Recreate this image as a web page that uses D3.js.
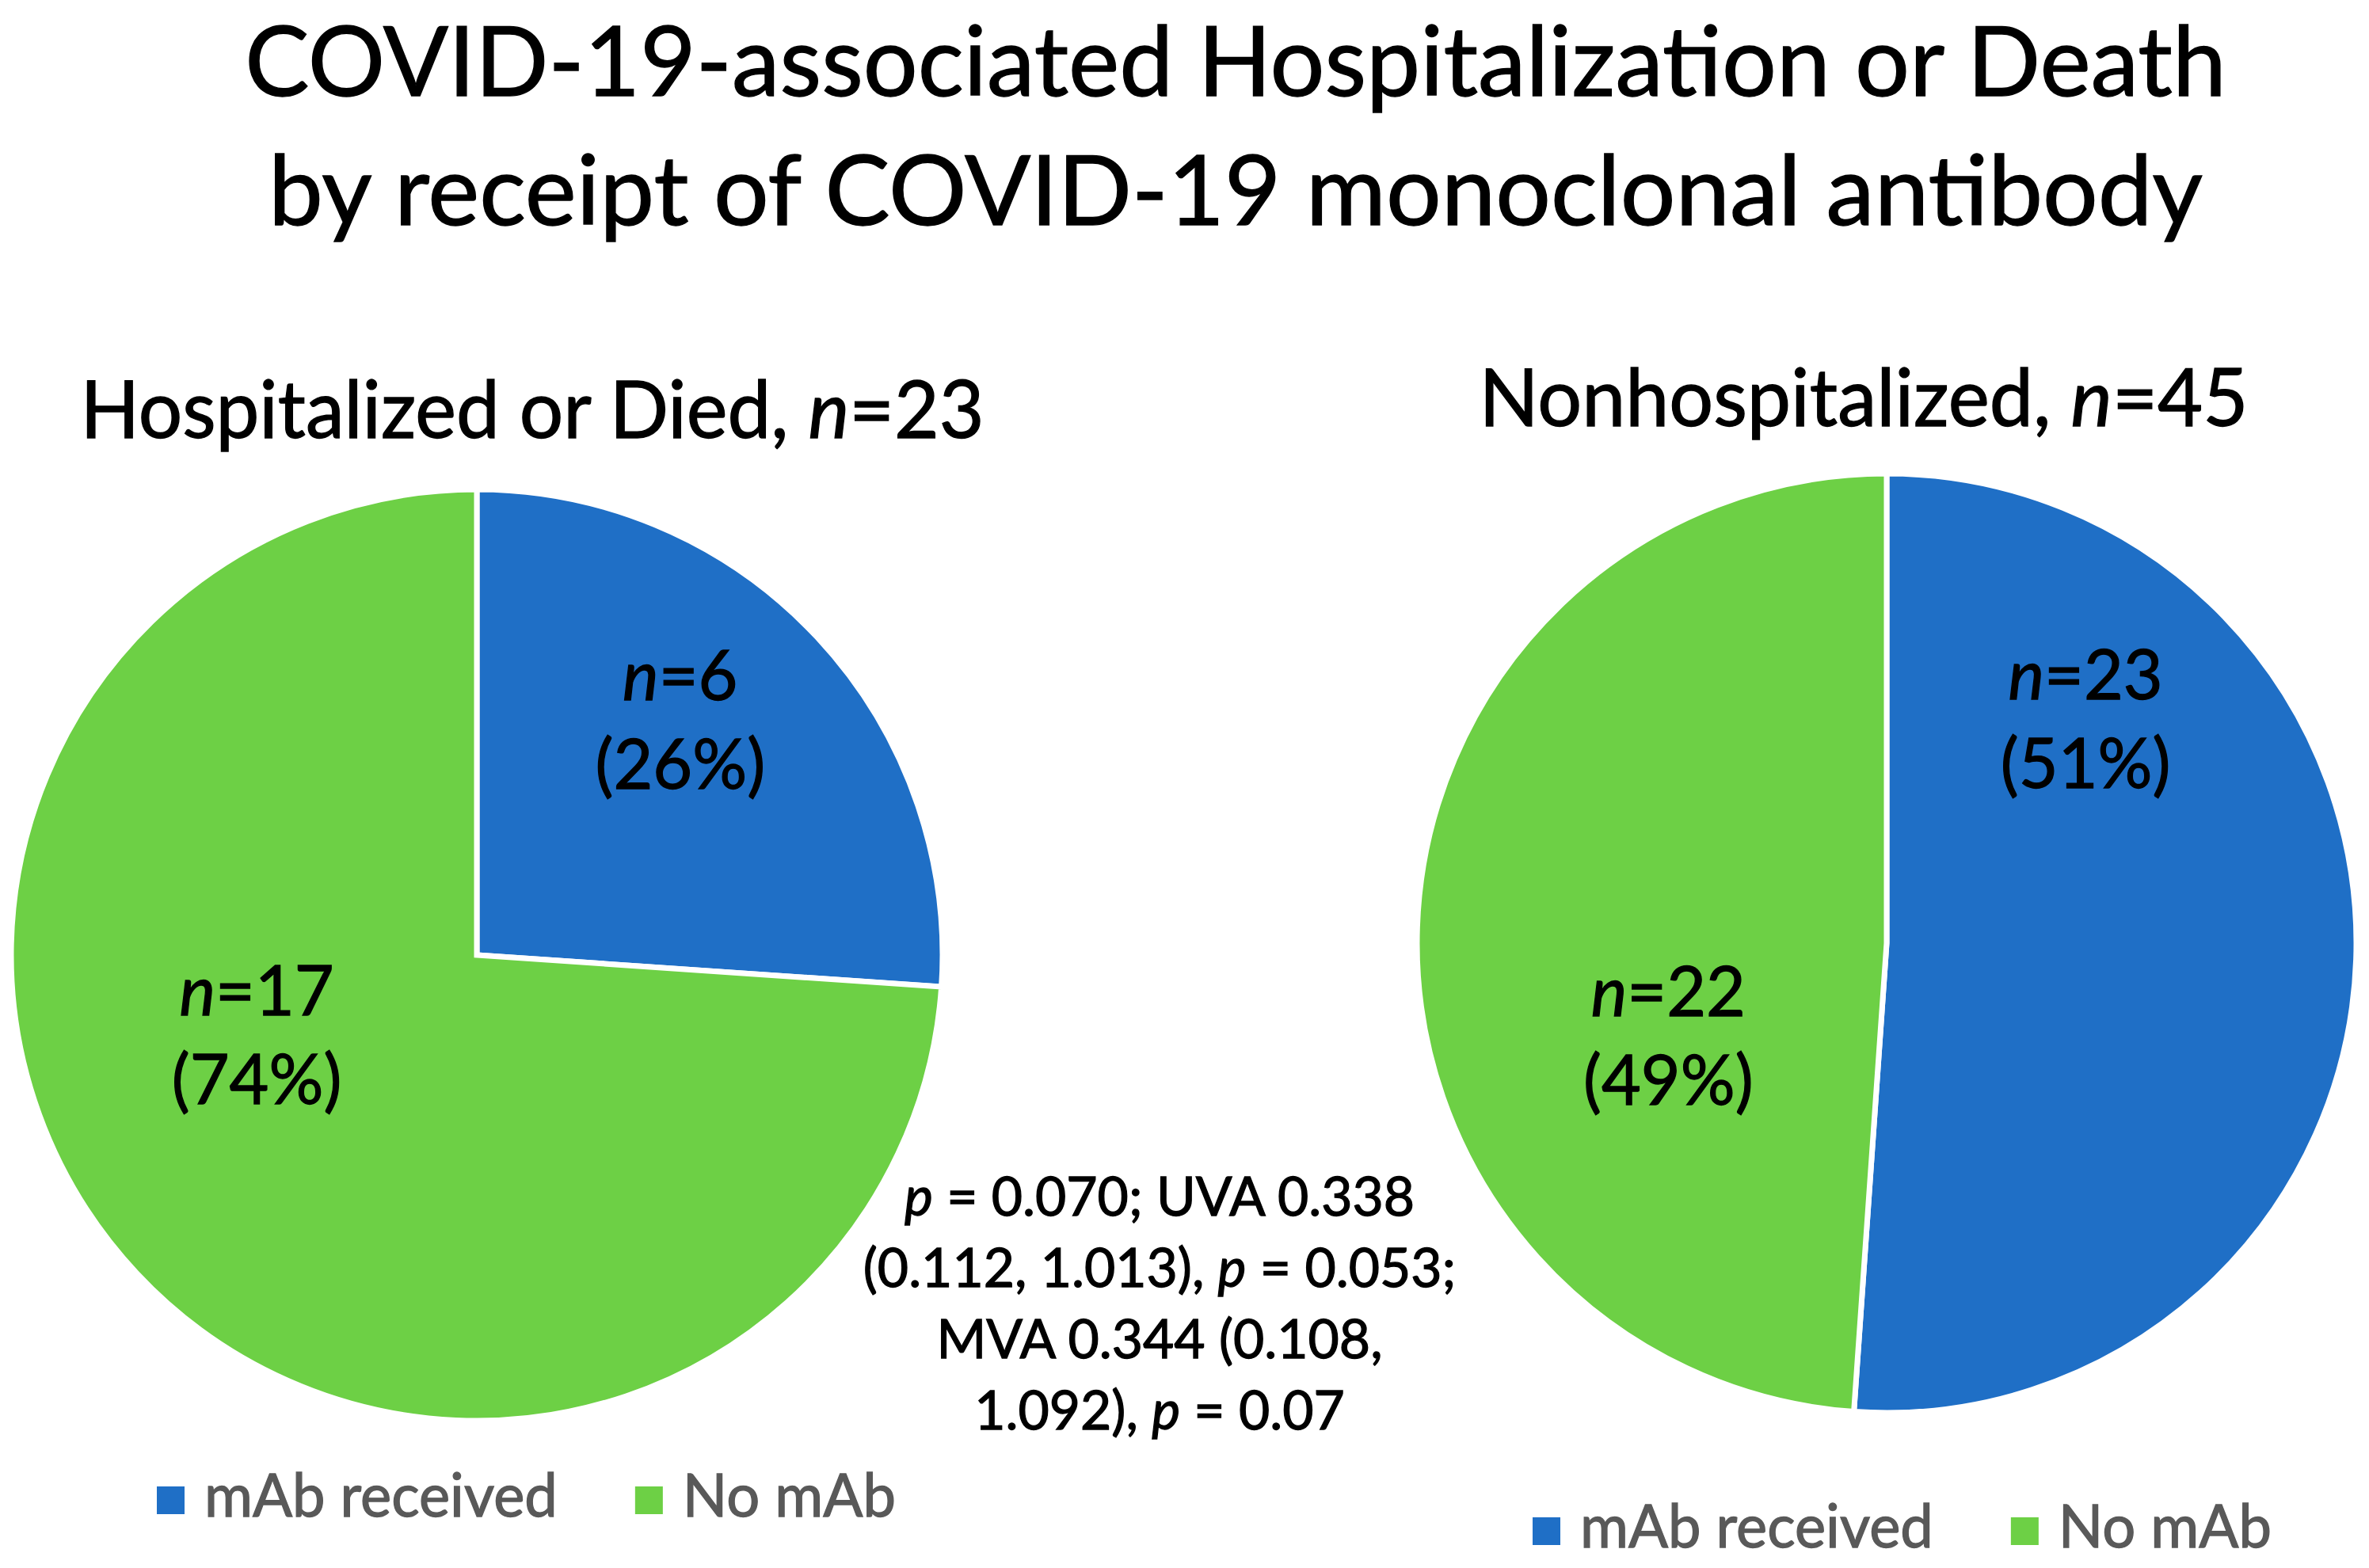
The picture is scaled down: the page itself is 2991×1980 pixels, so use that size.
<!DOCTYPE html>
<html>
<head>
<meta charset="utf-8">
<script src="https://cdn.jsdelivr.net/npm/d3@7"></script>
<style>
  body { margin: 0; background: #fff; }
  svg { display: block; }
  text { font-family: Lato, "Open Sans", sans-serif; }
</style>
</head>
<body>
<div id="screen"></div>
<script>
var width = 2991;
var height = 1980;

// data
var titleLines = ["COVID-19-associated Hospitalization or Death", "by receipt of COVID-19 monoclonal antibody"];
var categories = ["mAb received", "No mAb"];
var groupNames = ["Hospitalized or Died", "Nonhospitalized"];
var groupTotals = [23, 45];
var hospCounts = [6, 17];
var hospPct = [26, 74];
var nonhospCounts = [23, 22];
var nonhospPct = [51, 49];
// _p_ = italic p
var statsLines = ["_p_ = 0.070; UVA 0.338", "(0.112, 1.013), _p_ = 0.053;", "MVA 0.344 (0.108,", "1.092), _p_ = 0.07"];
var colors = ["#1f6fc6", "#6dd045"];

// layout
var pieLayout = [
  {cx: 602, cy: 1206, r: 588, titleX: 672, titleY: 553, titleW: 1141, legendX: 198, legendY: 1915,
   labelPos: [[38.6, 0.70], [254.7, 0.49]]},
  {cx: 2382, cy: 1191, r: 593, titleX: 2353, titleY: 538, titleW: 971, legendX: 1935, legendY: 1954,
   labelPos: [[39.2, 0.67], [251.6, 0.49]]}
];
var groupCounts = [hospCounts, nonhospCounts];
var groupPct = [hospPct, nonhospPct];

var svg = d3.select("#screen").append("svg")
  .attr("width", width).attr("height", height);

var color = d3.scaleOrdinal().domain(categories).range(colors);

// text with italic n / p pieces
var addRich = function(el, str){
  str.split("_").forEach(function(s, i){
    if (s.length == 0) return;
    el.append("tspan").attr("font-style", i % 2 == 1 ? "italic" : "normal").text(s);
  });
};

// place a text at x,y squeezed horizontally (Calibri is narrower than Lato)
var place = function(el, x, y, sx){
  el.attr("x", 0).attr("y", 0)
    .attr("transform", "translate(" + x + "," + y + ") scale(" + sx + ",1)");
  return el.node().getComputedTextLength() * sx;
};

var heavy = function(el, c){
  return el.attr("fill", c).attr("stroke", c).attr("stroke-width", 1.3);
};

// title, width fitted to the original
var titleW = [2502, 2442];
var titleBase = [121, 284];
var k = 1;
titleLines.forEach(function(t, i){
  var el = heavy(svg.append("text"), "#000")
    .attr("text-anchor", "middle")
    .attr("font-size", 123)
    .text(t);
  var nat = el.node().getComputedTextLength();
  if (i == 0) k = titleW[0] / nat;
  place(el, 1560, titleBase[i], titleW[i] / nat);
});

var pie = d3.pie().sort(null).value(function(d){ return d; });
var arc = d3.arc().innerRadius(0);

pieLayout.forEach(function(L, gi){
  var g = svg.append("g");

  // group heading
  var head = heavy(g.append("text"), "#000")
    .attr("text-anchor", "middle")
    .attr("font-size", 100);
  addRich(head, groupNames[gi] + ", _n_=" + groupTotals[gi]);
  place(head, L.titleX, L.titleY, L.titleW / head.node().getComputedTextLength());

  // slices
  var arcs = pie(groupCounts[gi]);
  arc.outerRadius(L.r);
  g.append("g").attr("transform", "translate(" + L.cx + "," + L.cy + ")")
    .selectAll("path").data(arcs).enter().append("path")
    .attr("d", arc)
    .attr("fill", function(d, i){ return color(categories[i]); })
    .attr("stroke", "#fff")
    .attr("stroke-width", 7);

  // slice labels
  var lab = d3.arc();
  arcs.forEach(function(d, i){
    var a = L.labelPos[i][0] * Math.PI / 180;
    var rr = L.labelPos[i][1] * L.r;
    lab.innerRadius(rr).outerRadius(rr).startAngle(a).endAngle(a);
    var c = lab.centroid();
    var t1 = heavy(g.append("text"), "#000")
      .attr("text-anchor", "middle").attr("font-size", 87);
    addRich(t1, "_n_=" + d.data);
    place(t1, L.cx + c[0], L.cy + c[1], k);
    var t2 = heavy(g.append("text"), "#000")
      .attr("text-anchor", "middle").attr("font-size", 87)
      .text("(" + groupPct[gi][i] + "%)");
    place(t2, L.cx + c[0], L.cy + c[1] + 112, k);
  });

  // legend
  var x = L.legendX;
  categories.forEach(function(c, i){
    g.append("rect")
      .attr("x", x).attr("y", L.legendY - 38)
      .attr("width", 35).attr("height", 35)
      .attr("fill", color(c));
    var t = heavy(g.append("text"), "#595959")
      .attr("font-size", 75)
      .text(c);
    var w = place(t, x + 60, L.legendY, k);
    x = x + 60 + w + 98;
  });
});

// test statistics
statsLines.forEach(function(s, i){
  var t = heavy(svg.append("text"), "#000")
    .attr("text-anchor", "middle")
    .attr("font-size", 68.5);
  addRich(t, s);
  place(t, 1464, 1535 + i * 90, k);
});
</script>
</body>
</html>
